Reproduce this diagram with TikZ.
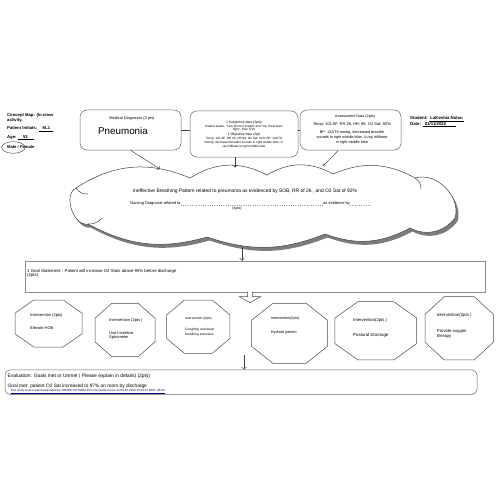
\documentclass[tikz,border=0pt]{standalone}
\usepackage{fontspec}
\setmainfont{Liberation Sans}
\usetikzlibrary{shadows,arrows.meta,calc}
\newcommand\fz[2]{\fontsize{#1}{#2}\selectfont}
\newcommand\octagon[4]{%
  \draw[octline] (#1-0.22*#3,#2-#4/2) -- (#1+0.22*#3,#2-#4/2) -- (#1+#3/2,#2-0.22*#4) -- (#1+#3/2,#2+0.22*#4) -- (#1+0.22*#3,#2+#4/2) -- (#1-0.22*#3,#2+#4/2) -- (#1-#3/2,#2+0.22*#4) -- (#1-#3/2,#2-0.22*#4) -- cycle;}
\begin{document}
\begin{tikzpicture}[x=1pt,y=-1pt,
  txt/.style={inner sep=0pt, align=center},
  ltxt/.style={inner sep=0pt, align=left, anchor=west},
  rbox/.style={draw=black!60, line width=0.5pt, rounded corners=7pt, inner sep=0pt},
  arr/.style={draw=black!75, line width=0.45pt, -{Straight Barb[length=2.2pt,width=4.5pt]}},
  conn/.style={draw=black!75, line width=0.45pt},
  octline/.style={draw=black!70, line width=0.5pt},
  cloudline/.style={draw=black!75, line width=0.5pt},
]
\useasboundingbox[fill=white] (0,0) rectangle (500,500);

% ---- left header
\node[ltxt, font=\fz{4.2}{5}\bfseries] (cm) at (7,117.5) {Concept Map: (In-class\\activity.};
\node[ltxt, font=\fz{4.2}{5}\bfseries] (pi) at (7,129) {Patient Initials: \underline{\hspace{4pt}M.J.\hspace{2pt}}};
\node[ltxt, font=\fz{4.2}{5}\bfseries] (age) at (7,137.7) {Age: \underline{\hspace{5pt}52\hspace{6pt}}};
\node[ltxt, font=\fz{4.2}{5}\bfseries] (sex) at (7,146.7) {Male / Female};
\draw[black!75, line width=0.45pt] (13.3,147.5) ellipse (11.7 and 5.8);

% ---- right header
\node[ltxt, font=\fz{4.3}{5}\bfseries] (stu) at (410,119.3) {Student: \underline{\ LaKeshia Nolan\ }};
\node[ltxt, font=\fz{4.3}{5}\bfseries] (date) at (410,124.6) {Date: \underline{\ \ 01/11/2022\hspace{10pt}}};

% ---- top boxes
\node[rbox, minimum width=101pt, minimum height=40pt] (med) at (130.5,130) {};
\node[txt, font=\fz{3.9}{4.5}] (medt) at (132,118) {Medical Diagnoses (2 pts)};
\node[txt, font=\fz{9.8}{11}] (pneu) at (123,131) {Pneumonia};

\node[rbox, minimum width=108pt, minimum height=46pt] (subj) at (244,134) {};
\node[txt, font=\fz{3.1}{2.9}] (subjt) at (244,126) {{\fz{3.4}{2.9}1 Subjective data (2pts)}\\Patient states, “I am short of breath” and “my chest feels\\tight”. Pain 5/10};
\node[txt, font=\fz{3.1}{2.75}] (objt) at (244,140.4) {{\fz{3.4}{2.75}1 Objective data (2pt)}\\Temp: 101.6F, RR 26, HR 98, O2 Sat: 92\% BP: 132/78\\mmHg, decreased breathe sounds in right middle lobe, X-\\ray infiltrate in right middle lobe};

\node[rbox, minimum width=101pt, minimum height=40pt] (assess) at (350.5,130) {};
\node[txt, font=\fz{3.75}{4.5}] (asst) at (355,116.7) {Assessment Data (2pts)};
\node[txt, font=\fz{4}{5}] (ass1) at (352,124.3) {Temp: 101.6F, RR 26, HR: 98, O2 Sat: 92\%};
\node[txt, font=\fz{3.8}{5}] (ass2) at (352,137.3) {BP: 132/78 mmhg, decreased breathe\\sounds in right middle lobe, X-ray infiltrate\\in right middle lobe};

\draw[conn] (med.east) -- (med.east -| subj.west);
\draw[conn] (subj.east |- assess.west) -- (assess.west);

% ---- cloud (drawn shape)
\path[cloudline, fill=white, drop shadow={shadow xshift=2.5pt, shadow yshift=-3.5pt, fill=black!60, opacity=0.85}]
  (76,188) to[bend left=28] (190,178) to[bend left=30] (267,175) to[bend left=30] (333,174)
  to[bend left=26] (415,178) to[bend left=62] (455,218) to[bend left=40] (410,228)
  to[bend left=24] (325,234) to[bend left=20] (207,237) to[bend left=22] (88,224)
  to[bend left=82] cycle;
\draw[cloudline] (76,188) to[bend right=30] (88,194);
\draw[cloudline] (415,178) to[bend left=30] (421,189);
\draw[cloudline] (88,224) to[bend right=25] (102,218);
\node[txt, font=\fz{4.9}{6}] (nd) at (245,191) {Ineffective Breathing Pattern related to preumonia as evidenced by SOB, RR of 26 , and O2 Sat of 92\%};
\node[ltxt, font=\fz{4}{5}] (nd1) at (130,203) {Nursing Diagnosis related to};
\node[ltxt, font=\fz{4}{5}] (nd2) at (323,203) {as evidence by};
\coordinate (ndend) at (372,204.3);
\draw[black!40, line width=0.25pt, dotted] (nd1.south east) -- (nd1.south east -| nd2.west);
\draw[black!40, line width=0.25pt, dotted] (nd2.south east) -- (nd2.south east -| ndend);
\node[txt, font=\fz{3.6}{4}] (sixp) at (237,209) {(6pts)};

% arrows into cloud
\coordinate (c1) at (160,169);
\coordinate (c2) at (235,167.5);
\coordinate (c3) at (323,166);
\draw[arr] (med.south) -- (c1);
\draw[arr] (subj.south -| c2) -- (c2);
\draw[arr] ($(assess.south)+(-12.5,0.5)$) -- (c3);

% ---- goal box
\node[draw=black!45, line width=0.5pt, minimum width=460pt, minimum height=31pt, inner sep=0pt] (goal) at (255,276.5) {};
\node[ltxt, font=\fz{4.3}{4.4}] (goalt) at (27,273.3) {1 Goal Statement : Patient will increase O2 Stats above 95\% before discharge\\(2pts)};
\coordinate (cg) at (242,247);
\draw[arr] (cg) -- (goal.north -| cg);

% block arrow
\draw[octline, fill=white, shift={($(goal.south)+(-5,0)$)}] (-2.3,-0.6) -- (-2.3,4.4) -- (-10.7,4.4) -- (0,10.4) -- (10.7,4.4) -- (2.3,4.4) -- (2.3,-0.6);

% ---- octagons
\octagon{48.5}{323.5}{67}{47}
\octagon{125}{330}{60}{53.4}
\octagon{198.3}{326.7}{63.3}{53.3}
\octagon{289.5}{333.3}{75.6}{60}
\octagon{375.8}{330.8}{81.7}{58.3}
\octagon{459.2}{328.3}{68.3}{63.3}

\node[ltxt, font=\fz{4}{5}] (o1a) at (30,315) {Intervention (2pts)};
\node[ltxt, font=\fz{4}{5}] (o1b) at (30,328.3) {Elevate HOB};
\node[ltxt, font=\fz{4}{5}] (o2a) at (109,320) {Intervention (2pts )};
\node[ltxt, font=\fz{4}{4.4}] (o2b) at (109,335.5) {Use Incentive\\Spirometer};
\node[ltxt, font=\fz{3.3}{4.3}] (o3a) at (185,319) {Intervention (2pts)};
\node[ltxt, font=\fz{3.3}{4.3}] (o3b) at (185,332.2) {Coughing and deep\\breathing exercises};
\node[ltxt, font=\fz{3.7}{4.5}] (o4a) at (270.7,319) {Intervention(2pts)};
\node[ltxt, font=\fz{3.8}{4.5}] (o4b) at (270.7,332.3) {Hydrate patient};
\node[ltxt, font=\fz{4.2}{5}] (o5a) at (353,320) {Intervention(2pts )};
\node[ltxt, font=\fz{4.4}{5}] (o5b) at (353,335.7) {Postural Drainage};
\node[ltxt, font=\fz{4.3}{5}] (o6a) at (436.7,315.7) {Intervention(2pts )};
\node[ltxt, font=\fz{4.3}{5}] (o6b) at (436.7,333.5) {Provide oxygen\\therapy};

% ---- evaluation
\node[rbox, rounded corners=5pt, minimum width=472pt, minimum height=24.5pt] (eval) at (241,382.2) {};
\coordinate (ia) at (244,355);
\draw[arr] (ia) -- (eval.north -| ia);
\node[ltxt, font=\fz{4.9}{6}] (ev1) at (7.5,376.7) {Evaluation: Goals met or Unmet ( Please explain in details) (2pts)};
\node[ltxt, font=\fz{4.8}{6}] (ev2) at (7.5,386.7) {Goal met: patient O2 Sat increased to 97\% on room by discharge};
\node[ltxt, font=\fz{2.95}{3.5}, text=blue!45!black] (wm) at (10.5,391.9) {\underline{This study source was downloaded by 100000774743840 from CourseHero.com on 09-15-2023 15:34:41 GMT -05:00}};
\end{tikzpicture}
\end{document}
